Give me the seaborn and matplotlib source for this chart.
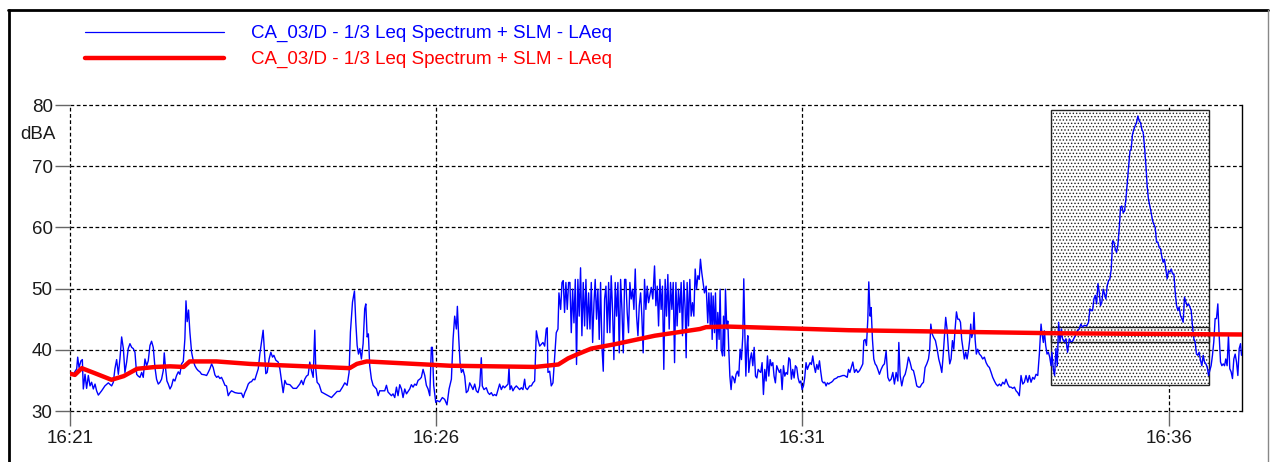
import numpy as np
import pandas as pd
import matplotlib
matplotlib.use("Agg")
import matplotlib.pyplot as plt
import seaborn as sns
from matplotlib.patches import Rectangle
from matplotlib.lines import Line2D

# ---------------- data (seconds after 16:21:00, level in dBA) ----------------
series_label = "CA_03/D - 1/3 Leq Spectrum + SLM - LAeq"

seg1_sec = [0, 2.7, 5.5, 6.3, 7.4, 9.0, 10.1, 10.9, 12.3, 13.6,
            15.0, 16.4, 17.7, 19.1, 20.5, 21.8, 23.2, 25.9, 28.6, 31.4,
            34.1, 35.5, 36.8, 38.2, 39.6, 40.9, 42.3, 43.7, 45.0, 46.4,
            47.7, 49.1, 50.5, 51.8, 53.2, 54.6, 55.9, 57.3, 58.7, 60.0,
            61.4, 62.8, 64.1, 65.5, 66.8, 68.2, 69.6, 70.9, 72.3, 73.7,
            75.0, 76.4, 77.2, 78.3, 79.4, 80.5, 81.9, 83.2, 84.6, 85.9,
            87.3, 88.7, 90.0, 91.4, 92.8, 94.1, 95.0, 96.0, 97.1, 98.2,
            99.6, 101.0, 102.3, 103.7, 105.0, 106.4, 107.8, 110.5, 111.9, 113.2,
            114.6, 116.0, 117.3, 118.7, 120.1, 121.4, 122.8, 124.1, 125.5, 126.9,
            128.2, 129.6, 131.0, 132.3, 135.1, 137.8, 140.5, 141.9, 143.2, 144.6,
            146.0, 147.3, 148.7, 150.1, 151.4, 152.8, 154.2, 155.5]
seg1_db = [36.3, 36.0, 36.9, 38.8, 37.1, 38.2, 38.4, 33.6, 36.0, 33.7,
           35.8, 34.1, 34.7, 33.6, 34.4, 33.3, 32.6, 33.3, 34.1, 34.6,
           34.1, 34.7, 36.9, 38.4, 36.0, 38.5, 42.1, 40.2, 36.3, 38.0,
           40.2, 41.0, 40.4, 40.2, 39.6, 36.0, 35.7, 35.5, 36.3, 35.5,
           38.5, 37.4, 38.2, 40.7, 41.4, 40.4, 37.1, 35.2, 34.4, 34.7,
           35.2, 36.6, 39.5, 36.9, 34.9, 34.4, 33.6, 34.1, 35.2, 34.9,
           35.8, 36.4, 36.0, 37.7, 38.1, 41.8, 48.0, 44.6, 46.5, 42.9,
           39.6, 38.2, 37.4, 36.9, 36.6, 36.4, 36.0, 35.9, 35.8, 36.3,
           36.9, 37.7, 37.1, 35.9, 35.5, 35.7, 35.3, 35.5, 34.9, 34.2,
           34.1, 32.5, 33.0, 33.3, 33.0, 32.9, 32.9, 32.2, 33.0, 33.6,
           34.4, 34.7, 34.8, 35.2, 35.1, 36.0, 36.9, 39.3]

seg2_sec = [158.2, 159.6, 160.4, 161.5, 163.1, 164.5, 165.9, 167.0, 168.6, 170.5,
            171.9, 173.2, 174.6, 176.0, 177.3, 180.1, 182.8, 185.5, 188.2, 189.6,
            191.0, 192.3, 193.7, 195.1, 196.4, 197.8, 199.2, 200.5, 201.3, 202.4,
            204.1, 206.0, 208.7, 211.4, 214.2, 216.9, 218.8, 221.0, 223.2, 225.1,
            227.0, 228.6, 229.7, 231.4, 233.0, 234.1, 235.2, 236.3, 237.4, 238.7,
            240.1, 241.4, 242.3, 243.4, 244.4, 245.5, 246.9, 248.3, 251.0, 252.4,
            253.7, 256.5, 257.8, 259.2, 260.5, 263.3, 264.6, 266.0, 267.4, 268.7,
            270.1, 271.5, 272.8, 274.2, 275.6, 278.3, 279.6, 281.0, 282.4, 283.7,
            285.1, 286.5, 287.8, 289.2, 290.6, 291.9, 293.3, 294.7, 296.0, 296.8,
            297.9, 299.6, 300.7, 302.8, 305.0, 306.9, 308.8, 310.5, 312.4, 313.8]
seg2_db = [43.2, 38.5, 36.1, 36.3, 38.5, 39.6, 38.8, 39.1, 38.3, 38.0,
           36.9, 35.0, 33.0, 35.0, 34.4, 34.3, 33.7, 33.7, 34.4, 35.0,
           34.3, 35.2, 35.7, 35.9, 38.0, 36.6, 35.5, 43.2, 36.9, 34.7,
           34.3, 33.1, 32.8, 32.5, 32.2, 32.8, 33.2, 33.2, 33.9, 34.6,
           34.2, 36.3, 42.9, 47.8, 49.6, 44.5, 40.7, 39.3, 40.2, 38.5,
           41.0, 46.7, 47.5, 42.1, 42.6, 37.4, 35.2, 34.2, 33.6, 32.5,
           33.3, 33.3, 33.3, 34.2, 33.1, 32.5, 32.8, 32.2, 33.9, 32.5,
           34.3, 33.6, 32.2, 33.6, 32.8, 33.6, 34.3, 33.9, 34.4, 34.2,
           35.0, 35.2, 35.5, 36.8, 35.8, 34.2, 33.6, 32.5, 40.4, 40.4,
           34.2, 31.4, 31.7, 31.5, 32.2, 31.9, 31.0, 33.6, 35.2, 41.8]

seg3_sec = [315.1, 316.5, 317.3, 318.4, 319.5, 320.6, 321.9, 323.3, 324.6, 326.0,
            327.4, 328.7, 330.1, 331.5, 332.8, 334.2, 335.6, 336.9, 337.7, 339.1,
            341.0, 342.4, 343.7, 345.1, 346.5, 347.8, 349.2, 350.6, 351.9, 353.3,
            354.7, 356.0, 357.4, 358.8, 359.6, 360.4, 361.5, 362.8, 364.2, 365.6,
            366.9, 368.3, 369.7, 371.0, 372.4, 373.2, 374.6, 376.5, 377.9, 379.2,
            380.6, 382.0, 383.3, 384.7, 386.0, 387.4, 388.8, 390.1, 390.9, 391.5,
            392.9, 394.2, 395.6, 397.0, 398.3, 399.7,
            400.5, 401.9, 403.0, 404.0, 405.1, 406.2, 407.3, 408.4, 409.5, 410.6,
            411.7, 412.8, 413.9, 414.9, 416.0, 417.1, 418.2, 419.3, 420.4, 421.5,
            422.6, 423.7, 424.8, 425.9, 427.0, 428.1, 429.2, 430.2, 431.3, 432.4,
            433.5, 434.6, 435.7, 436.8, 437.9, 439.0, 440.1, 441.2, 442.2, 443.3,
            444.4, 445.5, 446.6, 447.7, 448.8, 449.9, 451.0, 452.1, 453.2, 454.3,
            455.3, 456.4, 457.5, 458.6, 459.7, 460.8, 461.9, 463.0, 464.1, 465.2,
            466.3, 467.4, 468.4, 469.5, 470.6, 471.7, 472.8, 473.9]
seg3_db = [45.5, 43.4, 47.1, 42.0, 37.9, 36.3, 36.8, 35.7, 33.0, 33.3,
           34.6, 34.1, 33.5, 34.4, 33.3, 33.0, 34.1, 38.7, 34.1, 33.5,
           33.8, 33.0, 32.7, 33.0, 32.5, 32.7, 32.5, 33.5, 34.4, 33.5,
           34.1, 33.8, 34.1, 34.4, 37.1, 33.5, 34.1, 33.3, 33.8, 34.1,
           33.8, 33.5, 33.8, 33.5, 35.2, 33.8, 33.5, 34.1, 34.1, 34.6,
           34.9, 43.1, 41.7, 40.6, 40.9, 41.2, 40.6, 43.4, 43.6, 36.3,
           36.5, 34.1, 34.6, 39.0, 42.8, 43.4,
           49.3, 46.6, 51.0, 51.3, 46.1, 51.0, 46.6, 51.0, 51.0, 42.8,
           49.9, 44.4, 51.5, 37.6, 51.5, 45.5, 53.4, 42.3, 51.0, 43.9,
           51.5, 43.4, 49.3, 43.4, 51.0, 41.2, 47.7, 51.5, 45.0, 49.9,
           41.7, 51.0, 40.6, 36.5, 48.3, 50.4, 42.8, 51.0, 42.8, 52.1,
           46.6, 38.4, 51.0, 45.5, 51.0, 39.5, 51.5, 46.6, 39.5, 51.5,
           51.5, 46.1, 42.8, 51.0, 48.3, 49.9, 46.6, 53.2, 45.5, 42.3,
           47.2, 49.3, 45.5, 39.5, 51.5, 46.6, 50.4, 47.7]

seg4_sec = [476.1, 477.4, 478.8, 479.9, 481.0, 482.1, 483.2, 484.2, 485.3, 486.4,
            487.5, 488.6, 489.7, 490.8, 491.9, 493.0, 494.1, 495.2, 496.3, 497.3,
            498.4, 499.5, 500.6, 501.7, 502.8, 503.9, 504.7, 505.5, 506.6, 507.7,
            508.8, 509.9, 511.0, 512.1, 513.2, 514.3, 515.4, 516.4, 517.5, 518.6,
            519.7, 521.1, 522.4, 523.3, 524.4, 525.2, 526.0, 526.8, 527.9, 528.7,
            529.8, 530.6, 531.7, 532.5, 533.4, 534.5, 535.3, 536.1, 536.9, 538.0,
            538.8, 539.6, 540.5, 541.5, 542.4, 543.5, 544.5, 545.6, 546.7, 547.8,
            548.9, 550.0, 551.1, 551.9, 552.7, 553.6, 554.4, 555.2, 556.0, 557.1,
            558.2, 559.3, 560.4, 561.5, 562.6, 563.7, 564.7, 565.8, 566.9, 568.0,
            569.1, 570.2, 571.3, 572.4, 573.5, 574.6, 575.7, 576.7, 577.8, 578.9,
            580.0, 581.1, 582.2, 583.3, 584.4, 585.5, 586.6, 587.7, 588.8, 589.8,
            590.9, 592.0, 593.1, 594.2, 595.3, 596.4, 597.5, 598.6, 599.7, 600.8,
            601.8, 602.9, 604.0, 605.1, 606.2, 607.3, 608.4, 609.5, 610.6, 611.7,
            612.8, 613.9, 614.9, 616.0, 617.1, 618.2, 619.3, 620.4, 621.5, 622.6,
            623.7, 624.8, 625.9, 627.0, 628.1, 629.1, 630.2, 631.6, 633.0]
seg4_db = [50.2, 48.3, 53.7, 47.2, 50.4, 43.9, 51.5, 46.6, 50.4, 36.8,
           51.5, 45.5, 52.3, 43.4, 51.0, 46.6, 51.0, 37.9, 51.0, 43.9,
           49.9, 46.1, 51.0, 42.3, 51.3, 46.6, 38.7, 51.0, 43.9, 51.5,
           45.5, 47.7, 45.5, 53.2, 49.9, 52.1, 51.5, 54.8, 52.6, 51.0,
           49.3, 50.4, 44.4, 49.3, 43.9, 49.3, 41.7, 48.8, 42.8, 49.3,
           40.1, 46.1, 41.7, 49.9, 40.1, 39.0, 45.5, 39.0, 49.9, 43.4,
           44.7, 40.1, 35.7, 33.5, 35.7, 35.4, 34.6, 36.0, 36.5, 35.7,
           40.1, 38.4, 42.3, 51.6, 43.4, 35.7, 40.1, 42.3, 36.3, 38.4,
           39.5, 37.4, 40.4, 35.7, 35.4, 36.8, 36.5, 36.3, 37.9, 32.7,
           36.8, 34.9, 39.0, 35.7, 38.4, 37.4, 37.9, 35.7, 34.6, 37.4,
           36.8, 36.3, 36.8, 33.5, 37.4, 35.7, 36.3, 36.0, 38.7, 38.4,
           35.2, 36.8, 35.4, 37.4, 37.1, 35.4, 34.6, 34.9, 33.5, 34.1,
           35.4, 37.9, 36.8, 37.4, 37.9, 37.6, 39.0, 37.4, 36.3, 37.6,
           36.8, 38.2, 36.5, 34.9, 34.6, 34.7, 34.1, 34.6, 34.4, 34.6,
           34.7, 34.9, 35.2, 35.3, 35.4, 35.6, 35.6, 35.7, 35.8]

seg5_sec = [634.4, 636.6, 637.7, 638.8, 639.9, 641.2, 642.6, 644.0, 645.3, 646.7,
            648.0, 649.4, 650.2, 651.3, 652.4, 653.5, 654.3, 655.4, 656.2, 657.3,
            658.4, 659.5, 660.6, 661.7, 663.0, 664.4, 665.8, 667.1, 668.5, 669.9,
            671.2, 672.6, 674.0, 675.3, 676.7, 678.1, 678.9, 680.0, 681.3, 682.7,
            684.1, 685.4, 686.8, 688.2, 689.5, 690.9, 692.2, 693.6, 695.0, 696.3,
            697.7, 699.1, 700.4, 701.8, 703.2, 704.2, 705.1, 706.2, 707.5, 708.9,
            710.3, 711.6, 713.0, 714.1, 715.2, 716.3, 717.3, 718.4, 719.5, 720.6,
            721.7, 722.8, 723.9, 725.0, 726.1, 727.2, 728.3, 729.4, 730.4, 731.5,
            732.6, 733.7, 734.8, 735.9, 737.0, 737.8, 738.6, 739.7, 740.5, 741.4,
            742.4, 743.5, 744.9, 746.3, 747.6, 749.0, 750.4, 751.7, 753.1, 754.5,
            755.8, 757.2, 758.5, 759.9, 761.3, 762.6, 764.0, 765.4, 766.7, 768.1,
            769.5, 770.8, 772.2, 773.6, 774.9, 776.3, 777.6, 779.0, 780.4, 781.7,
            783.1, 784.5, 785.8, 787.2, 788.6, 789.9, 791.3, 792.7, 794.0, 795.4,
            796.2, 797.3, 798.1, 799.2, 800.3, 801.4, 802.5, 803.6]
seg5_db = [35.8, 35.5, 36.8, 36.3, 37.1, 38.0, 36.3, 36.8, 36.3, 36.6,
           37.1, 37.7, 41.5, 41.7, 40.7, 45.0, 51.1, 45.5, 46.9, 41.7,
           38.5, 37.7, 37.4, 36.8, 36.0, 36.8, 37.4, 37.7, 39.8, 35.5,
           34.9, 35.2, 36.3, 34.4, 36.3, 34.9, 41.2, 35.8, 34.1, 35.5,
           36.0, 37.1, 38.8, 37.9, 36.8, 36.6, 35.5, 34.1, 33.9, 33.9,
           34.4, 34.7, 37.1, 37.7, 38.5, 40.1, 44.2, 42.6, 42.0, 41.5,
           40.1, 38.5, 37.4, 36.3, 39.0, 42.3, 45.3, 43.4, 40.1, 37.7,
           38.5, 41.5, 40.1, 43.4, 46.2, 45.0, 45.0, 44.5, 41.7, 40.1,
           38.5, 39.6, 38.5, 39.8, 41.7, 44.2, 42.0, 42.8, 46.1, 41.7,
           39.3, 40.1, 39.3, 39.0, 38.5, 38.8, 37.9, 37.4, 37.1, 36.3,
           35.5, 34.9, 34.4, 34.1, 34.4, 34.1, 34.7, 34.4, 35.2, 34.4,
           33.9, 33.9, 33.7, 33.9, 33.3, 33.0, 32.5, 35.8, 34.4, 34.7,
           35.8, 34.7, 35.8, 34.7, 35.5, 35.2, 36.0, 35.8, 39.3, 44.2,
           42.6, 41.2, 43.1, 40.7, 39.3, 39.6, 38.8, 37.4]

seg6_sec = [804.3, 805.4, 806.5, 807.6, 808.7, 809.8, 810.9, 812.0, 813.0, 814.4,
            815.8, 817.1, 818.5, 819.9, 821.2, 823.4, 825.3, 826.7, 828.0, 829.4,
            830.8, 832.7, 834.3, 835.4, 836.5, 837.6, 838.7, 839.8, 840.9, 842.0,
            843.1, 844.1, 845.2, 846.3, 847.4, 848.5, 849.6, 850.7, 851.8, 852.9,
            854.0, 855.1, 856.2, 857.2, 858.3, 859.4, 860.5, 861.6, 862.7, 863.8,
            864.9, 866.0, 867.1, 868.2, 869.2, 870.3, 871.4, 872.5, 873.6, 874.7,
            875.8, 876.9, 878.0, 879.1, 880.2, 881.3, 882.3, 883.4, 884.5, 885.6,
            886.7, 887.8, 888.9, 890.0, 891.1, 892.2, 893.3, 894.4, 895.4, 896.5,
            897.6, 898.7, 899.8, 900.9, 902.0, 903.1, 904.2, 905.3, 906.4, 907.5,
            908.5, 909.6, 910.7, 911.8, 912.9, 914.0, 915.1, 916.2, 917.3, 918.4,
            919.5, 920.6, 921.6, 922.7, 923.8, 924.9, 926.0, 927.1, 928.2, 929.3,
            930.4, 931.5, 932.6, 933.6, 934.7, 935.8, 936.9, 938.0, 939.1, 940.2,
            941.3, 942.4, 943.5, 944.6, 945.7, 946.7, 947.8, 948.9, 950.0, 951.1,
            952.2, 953.3, 954.4, 955.5, 956.6, 957.7, 958.8, 959.6]
seg6_db = [39.6, 36.9, 35.8, 40.2, 37.4, 44.5, 41.3, 43.4, 41.8, 41.3,
           41.8, 39.6, 41.8, 41.3, 41.4, 42.3, 43.2, 43.4, 44.2, 43.7,
           44.0, 43.9, 44.5, 46.7, 46.4, 46.4, 48.3, 48.9, 47.5, 50.8,
           49.4, 47.2, 47.8, 49.9, 49.1, 48.3, 50.5, 51.3, 51.6, 53.2,
           57.8, 57.6, 56.5, 55.9, 57.0, 59.7, 63.3, 63.5, 62.4, 62.7,
           64.6, 67.3, 70.1, 72.5, 72.8, 75.2, 76.0, 76.6, 77.1, 78.2,
           77.4, 77.1, 76.0, 75.5, 73.0, 70.1, 66.8, 64.6, 63.5, 62.4,
           61.1, 60.5, 60.0, 57.6, 57.6, 56.7, 56.5, 55.1, 54.3, 54.8,
           53.2, 51.6, 52.9, 52.7, 53.2, 52.4, 52.4, 49.4, 47.2, 46.4,
           47.0, 45.6, 45.1, 44.5, 48.6, 47.8, 47.2, 47.5, 47.0, 46.4,
           43.7, 41.8, 41.3, 39.3, 39.1, 39.6, 38.3, 37.4, 39.1, 38.0,
           37.7, 37.2, 35.8, 36.6, 37.4, 39.1, 41.3, 45.1, 45.1, 47.5,
           42.3, 38.0, 37.4, 37.7, 37.4, 38.5, 37.4, 42.3, 36.9, 36.4,
           35.3, 38.5, 39.3, 38.0, 35.8, 40.2, 41.0, 39.1]

red_sec = [0, 4, 9.6, 20, 34, 44, 55, 70, 82, 93, 98, 120, 147, 169, 229,
           235, 243, 311, 381, 400, 408, 416, 427, 446, 479, 516, 521, 538,
           638, 809, 960]
red_db = [36.1, 35.9, 37.0, 36.2, 35.1, 35.7, 36.9, 37.2, 37.3, 37.2, 38.1,
          38.1, 37.7, 37.5, 37.0, 37.7, 38.1, 37.4, 37.2, 37.6, 38.6, 39.3,
          40.2, 40.9, 42.3, 43.4, 43.7, 43.8, 43.2, 42.7, 42.5]

tick_sec = [0, 300, 600, 900]
tick_labels = ["16:21", "16:26", "16:31", "16:36"]
y_ticks = [30, 40, 50, 60, 70, 80]

# highlighted window (shaded box) and the band inside it
box_sec = (803.8, 933.1)
box_db = (34.25, 79.2)
band_db = (41.3, 43.7)

# ---------------- figure ----------------
sns.set_style("white")
plt.rcParams['font.family'] = ['Liberation Sans', 'DejaVu Sans']
plt.rcParams['hatch.color'] = 'black'
plt.rcParams['hatch.linewidth'] = 0.6

W, H = 1271, 462
fig = plt.figure(figsize=(W / 100, H / 100), dpi=100)
ax = fig.add_axes([70 / W, 1 - 411 / H, (1242 - 70) / W, (411 - 105) / H])

blue_sec = seg1_sec + seg2_sec + seg3_sec + seg4_sec + seg5_sec + seg6_sec
blue_db = seg1_db + seg2_db + seg3_db + seg4_db + seg5_db + seg6_db
blue = pd.DataFrame({"sec": blue_sec, "db": blue_db})
red = pd.DataFrame({"sec": red_sec, "db": red_db})

# shaded box
ax.add_patch(Rectangle((box_sec[0], box_db[0]), box_sec[1] - box_sec[0],
                       box_db[1] - box_db[0], facecolor="white",
                       edgecolor="#222222", lw=1.0, hatch=".....", zorder=2))
ax.add_patch(Rectangle((box_sec[0], band_db[0]), box_sec[1] - box_sec[0],
                       band_db[1] - band_db[0], fill=False,
                       edgecolor="#222222", lw=1.0, zorder=2.5))

sns.lineplot(data=blue, x="sec", y="db", ax=ax, color="#0000FF", lw=1.0,
             estimator=None, sort=False, zorder=3)
sns.lineplot(data=red, x="sec", y="db", ax=ax, color="#FF0000", lw=3.2,
             estimator=None, sort=False, zorder=4)

ax.set_xlim(0, 960)
ax.set_ylim(30, 80)
ax.set_xticks(tick_sec)
ax.set_xticklabels(tick_labels)
ax.set_yticks(y_ticks)
ax.set_xlabel("")
ax.set_ylabel("")
ax.grid(True, color="black", linestyle=(0, (3, 2)), lw=0.9)
for gl in ax.get_xgridlines() + ax.get_ygridlines():
    gl.set_clip_on(False)
for s in ["left", "top", "bottom"]:
    ax.spines[s].set_visible(False)
ax.spines["right"].set_color("black")
ax.spines["right"].set_linewidth(1.0)
ax.tick_params(axis="both", direction="out", length=11, width=1,
               color="#666666", labelsize=13.5, labelcolor="#1a1a1a")
ax.tick_params(axis="y", pad=1.5, left=True)
ax.tick_params(axis="x", pad=2.5, bottom=True)

fig.text(56 / W, 1 - 135 / H, "dBA", ha="right", va="center",
         fontsize=13.5, color="#1a1a1a")

handles = [Line2D([], [], color="#0000FF", lw=0.9),
           Line2D([], [], color="#FF0000", lw=3.2)]
fig.legend(handles, [series_label, series_label], loc="upper left",
           bbox_to_anchor=(85 / W, 1 - 25 / H), frameon=False,
           handlelength=7.4, handletextpad=1.45, labelspacing=0.47,
           fontsize=13.5, borderpad=0, borderaxespad=0,
           labelcolor="linecolor")

# outer frame
fig.add_artist(Line2D([9 / W, 9 / W], [0, 1 - 10 / H], transform=fig.transFigure,
                      color="black", lw=2.0))
fig.add_artist(Line2D([8 / W, 1268 / W], [1 - 10 / H, 1 - 10 / H],
                      transform=fig.transFigure, color="black", lw=2.0))
fig.add_artist(Line2D([1268 / W, 1268 / W], [0, 1 - 10 / H],
                      transform=fig.transFigure, color="#888888", lw=1.0))

fig.savefig("out.png", dpi=100)
